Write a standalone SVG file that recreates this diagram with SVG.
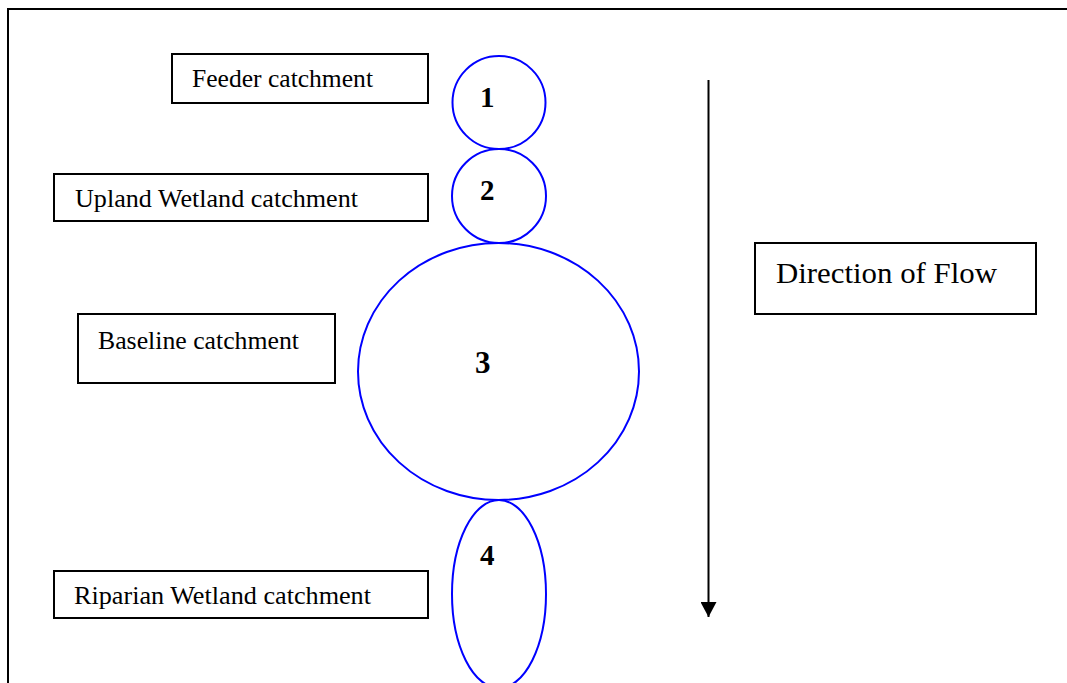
<svg xmlns="http://www.w3.org/2000/svg" width="1067" height="683" viewBox="0 0 1067 683">
  <style>
    .box { fill: #ffffff; stroke: #000000; stroke-width: 2; }
    .zone { fill: none; stroke: #0000ff; stroke-width: 2; }
    .label { font-family: "Liberation Serif", "Times New Roman", serif; font-size: 25px; fill: #000000; }
    .num { font-family: "Liberation Serif", "Times New Roman", serif; font-size: 29px; font-weight: bold; fill: #000000; }
    .flow { stroke: #000000; stroke-width: 2; fill: none; }
  </style>
  <defs>
    <!-- arrowhead drawn along +x so orient="auto" follows the line direction -->
    <marker id="arrowhead" markerUnits="userSpaceOnUse" markerWidth="15" markerHeight="16" refX="15" refY="8" orient="auto" viewBox="0 0 15 16">
      <path d="M0,0 L15,8 L0,16 Z" fill="#000000"/>
    </marker>
  </defs>

  <rect width="1067" height="683" fill="#ffffff"/>

  <!-- outer frame -->
  <path d="M8,684 L8,9 L1068,9" fill="none" stroke="#000000" stroke-width="2"/>

  <!-- catchment zones -->
  <g id="zone-1">
    <circle class="zone" cx="499" cy="102.5" r="46.5"/>
    <text class="num" x="480" y="107">1</text>
  </g>
  <g id="zone-2">
    <circle class="zone" cx="499" cy="196" r="47"/>
    <text class="num" x="480" y="200">2</text>
  </g>
  <g id="zone-3">
    <ellipse class="zone" cx="498.5" cy="371.5" rx="140.5" ry="128.5"/>
    <text class="num" x="475" y="373" style="font-size:31px">3</text>
  </g>
  <g id="zone-4">
    <ellipse class="zone" cx="499" cy="594" rx="47" ry="94"/>
    <text class="num" x="480" y="565">4</text>
  </g>

  <!-- labels -->
  <g id="feeder">
    <rect class="box" x="172" y="54" width="256" height="49"/>
    <text class="label" x="192" y="87" textLength="181" lengthAdjust="spacingAndGlyphs">Feeder catchment</text>
  </g>
  <g id="upland">
    <rect class="box" x="54" y="174" width="374" height="47"/>
    <text class="label" x="75" y="207" textLength="283" lengthAdjust="spacingAndGlyphs">Upland Wetland catchment</text>
  </g>
  <g id="baseline">
    <rect class="box" x="78" y="314" width="257" height="69"/>
    <text class="label" x="98" y="349" textLength="201" lengthAdjust="spacingAndGlyphs">Baseline catchment</text>
  </g>
  <g id="riparian">
    <rect class="box" x="54" y="571" width="374" height="47"/>
    <text class="label" x="74" y="604" textLength="297" lengthAdjust="spacingAndGlyphs">Riparian Wetland catchment</text>
  </g>
  <g id="direction">
    <rect class="box" x="755" y="243" width="281" height="71"/>
    <text class="label" x="776" y="283" style="font-size:29px" textLength="221" lengthAdjust="spacingAndGlyphs">Direction of Flow</text>
  </g>

  <!-- flow arrow -->
  <g id="connectors">
    <line class="flow" x1="708.5" y1="80" x2="708.5" y2="617" marker-end="url(#arrowhead)"/>
  </g>
</svg>
